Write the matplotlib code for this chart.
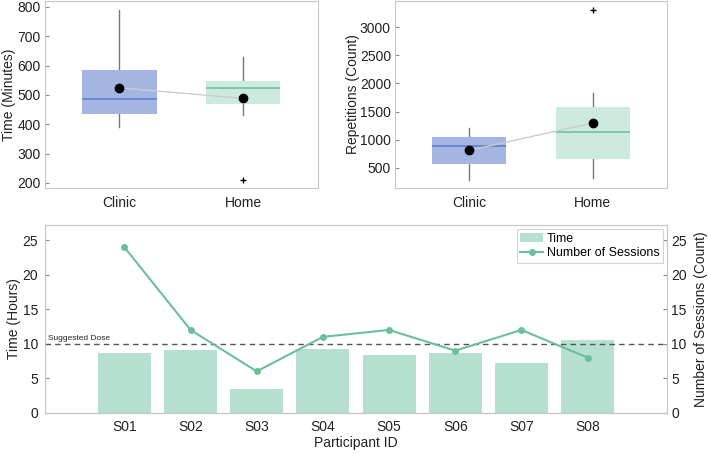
import matplotlib
matplotlib.use("Agg")
import matplotlib.pyplot as plt

plt.rcParams['font.family'] = ['Liberation Sans', 'DejaVu Sans']

# ---- data ----
groups = ["Clinic", "Home"]
# Time (minutes) box stats
time_whislo = [391, 430]
time_q1 = [435, 469]
time_med = [487, 522]
time_q3 = [585, 546]
time_whishi = [790, 628]
time_mean = [524, 488]
time_fliers = [[], [209]]
# Repetitions box stats
rep_whislo = [281, 311]
rep_q1 = [571, 660]
rep_med = [886, 1140]
rep_q3 = [1046, 1575]
rep_whishi = [1206, 1834]
rep_mean = [810, 1295]
rep_fliers = [[], [3300]]

participants = ["S01", "S02", "S03", "S04", "S05", "S06", "S07", "S08"]
hours = [8.65, 9.07, 3.43, 9.23, 8.36, 8.7, 7.16, 10.5]
sessions = [24, 12, 6, 11, 12, 9, 12, 8]
suggested_dose = 10

box_face = ["#a3b5e0", "#cdeadf"]
med_col = ["#5f7fcf", "#72c2a0"]
bar_col = "#b5e0d0"
line_col = "#6bbf9c"
frame_col = "#c8c8c8"
txt_col = "#222222"

fig = plt.figure(figsize=(7.08, 4.54), dpi=100)
ax1 = fig.add_axes([0.0636, 0.586, 0.385, 0.412])
ax2 = fig.add_axes([0.558, 0.586, 0.384, 0.412])
ax3 = fig.add_axes([0.0636, 0.091, 0.8784, 0.413])


def style(ax):
    for s in ax.spines.values():
        s.set_color(frame_col)
    ax.tick_params(direction='in', colors='#888888', labelcolor=txt_col,
                   labelsize=10, length=3, pad=3)


def boxes(ax, whislo, q1, med, q3, whishi, means, fliers):
    stats = []
    for i in range(len(groups)):
        stats.append(dict(whislo=whislo[i], q1=q1[i], med=med[i], q3=q3[i],
                          whishi=whishi[i], fliers=fliers[i], label=groups[i]))
    pos = list(range(1, len(groups) + 1))
    bp = ax.bxp(stats, positions=pos, widths=0.6, patch_artist=True,
                showcaps=False,
                whiskerprops=dict(color='#777777', lw=1),
                flierprops=dict(marker='+', markeredgecolor='black',
                                markersize=5, markeredgewidth=1))
    for i, b in enumerate(bp['boxes']):
        b.set_facecolor(box_face[i])
        b.set_edgecolor('none')
        b.set_zorder(2)
    for i, m in enumerate(bp['medians']):
        m.set_color(med_col[i])
        m.set_linewidth(1.2)
        m.set_zorder(3)
    for w in bp['whiskers']:
        w.set_zorder(1)
    ax.plot(pos, means, color='#cccccc', lw=1, zorder=4)
    ax.plot(pos, means, 'o', color='black', markersize=6, zorder=5)
    ax.set_xlim(0.4, 2.6)
    style(ax)
    ax.tick_params(axis='x', length=0, pad=6)


boxes(ax1, time_whislo, time_q1, time_med, time_q3, time_whishi, time_mean, time_fliers)
ax1.set_ylim(183, 820)
ax1.set_yticks([200, 300, 400, 500, 600, 700, 800])
ax1.set_ylabel("Time (Minutes)", fontsize=10, color=txt_col, labelpad=1)

boxes(ax2, rep_whislo, rep_q1, rep_med, rep_q3, rep_whishi, rep_mean, rep_fliers)
ax2.set_ylim(140, 3470)
ax2.set_yticks([500, 1000, 1500, 2000, 2500, 3000])
ax2.set_ylabel("Repetitions (Count)", fontsize=10, color=txt_col, labelpad=0)

# bottom
x = list(range(1, len(participants) + 1))
ax3.bar(x, hours, width=0.8, color=bar_col, label="Time", zorder=2)
ax3.axhline(suggested_dose, color='#555555', ls=(0, (4, 3)), lw=1, zorder=3)
ax3.text(-0.15, suggested_dose + 0.3, "Suggested Dose", fontsize=6,
         color=txt_col, va='bottom', ha='left')
ax3.set_xlim(-0.2, 9.2)
ax3.set_ylim(0, 27.2)
ax3.set_yticks([0, 5, 10, 15, 20, 25])
ax3.set_xticks(x)
ax3.set_xticklabels(participants)
ax3.set_ylabel("Time (Hours)", fontsize=10, color=txt_col, labelpad=1)
ax3.set_xlabel("Participant ID", fontsize=10, color=txt_col, labelpad=2)
style(ax3)
ax3.tick_params(axis='y', pad=5)
ax3.spines['bottom'].set_color('#999999')
ax3.tick_params(axis='x', length=0, pad=5)

ax4 = ax3.twinx()
ln, = ax4.plot(x, sessions, '-o', color=line_col, lw=1.5, markersize=4,
               label="Number of Sessions", zorder=4)
ax4.set_ylim(0, 27.2)
ax4.set_yticks([0, 5, 10, 15, 20, 25])
ax4.set_ylabel("Number of Sessions (Count)", fontsize=10, color=txt_col, labelpad=5)
style(ax4)

h1, l1 = ax3.get_legend_handles_labels()
leg = ax4.legend(h1 + [ln], l1 + ["Number of Sessions"], loc='upper right',
                 fontsize=9, frameon=True, fancybox=False, borderaxespad=0.3,
                 handlelength=1.8, handletextpad=0.3, borderpad=0.3,
                 labelspacing=0.2)
leg.get_frame().set_edgecolor(frame_col)
leg.get_frame().set_linewidth(0.8)

fig.savefig("out.png", dpi=100)
